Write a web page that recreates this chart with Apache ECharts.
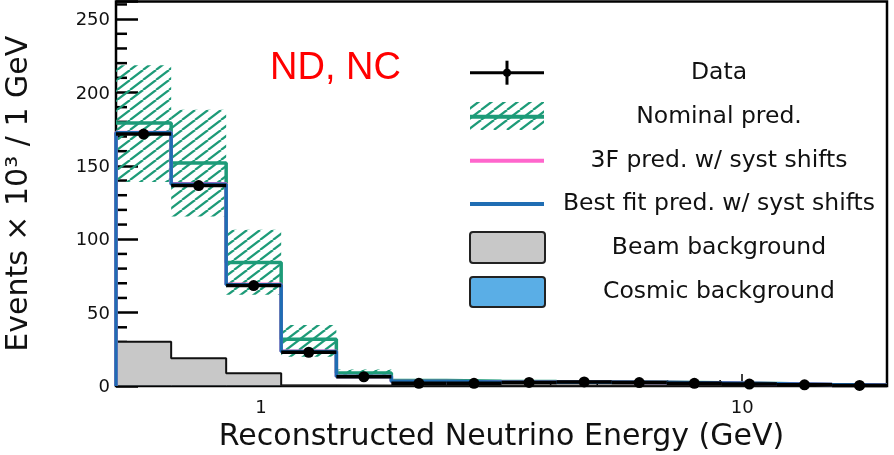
<!DOCTYPE html>
<html>
<head>
<meta charset="utf-8">
<script src="https://cdn.jsdelivr.net/npm/echarts@6/dist/echarts.min.js"></script>
<style>
html,body{margin:0;padding:0;background:#fff;}
#chart{width:894px;height:455px;}
</style>
</head>
<body>
<div id="chart"></div>
<script>
// Bin edges (GeV), 14 log-spaced bins
var binEdges = [0.5, 0.651, 0.847, 1.102, 1.435, 1.867, 2.43, 3.163, 4.117, 5.358, 6.974, 9.077, 11.81, 15.38, 20];
// Values (Events x 10^3 / 1 GeV) per bin
var dataValues    = [171.7, 136.6, 68.4, 23.0, 6.3, 1.8, 1.8, 2.4, 2.8, 2.3, 1.8, 1.3, 0.8, 0.4];
var nominalValues = [179.2, 151.9, 84.1, 31.8, 8.9, 3.8, 3.3, 3.0, 2.9, 2.6, 2.2, 1.7, 1.1, 0.6];
var nominalHigh   = [218.5, 188.3, 106.4, 41.6, 11.2, 4.6, 4.0, 3.6, 3.4, 3.1, 2.6, 2.0, 1.3, 0.7];
var nominalLow    = [139.0, 115.5, 62.1, 20.0, 5.5, 2.9, 2.6, 2.4, 2.3, 2.1, 1.8, 1.4, 0.9, 0.5];
var threeFValues  = [172.8, 137.8, 69.3, 23.6, 6.5, 3.1, 2.8, 2.6, 2.6, 2.4, 2.0, 1.6, 1.0, 0.5];
var bestFitValues = [172.5, 137.5, 69.0, 23.5, 6.4, 3.1, 2.8, 2.6, 2.6, 2.4, 2.0, 1.6, 1.0, 0.5];
var beamBkgValues = [30.2, 18.9, 8.7, 0.3, 0.2, 0.1, 0.1, 0.1, 0.1, 0.1, 0.1, 0.1, 0.1, 0.1];
var cosmicBkgValues = [0.2, 0.2, 0.2, 0.2, 0.2, 0.2, 0.2, 0.2, 0.2, 0.2, 0.2, 0.1, 0.1, 0.1];
// Tick positions and labels
var xMinorTicks = [0.6, 0.7, 0.8, 0.9, 2, 3, 4, 5, 6, 7, 8, 9, 20];
var xTickLabels = [1, 10];
var yTickLabels = [0, 50, 100, 150, 200, 250];
var yMinorTicks = [10, 20, 30, 40, 60, 70, 80, 90, 110, 120, 130, 140, 160, 170, 180, 190, 210, 220, 230, 240, 260];
var yMax = 262;

var GREEN = '#1d9b78', BLUE = '#1f6db3', PINK = '#ff66cc', GRAY = '#c8c8c8', COSMIC = '#5aaee6';
var FONT = 'DejaVu Sans';

function stepData(values, startZero) {
  var arr = [];
  if (startZero) arr.push([binEdges[0], 0]);
  for (var i = 0; i < values.length; i++) arr.push([binEdges[i], values[i]]);
  arr.push([binEdges[values.length], values[values.length - 1]]);
  return arr;
}

// hatch pattern
var pat = document.createElement('canvas');
pat.width = 13; pat.height = 10;
(function(){
  var c = pat.getContext('2d');
  c.strokeStyle = GREEN; c.lineWidth = 2.2;
  for (var k = -1; k <= 1; k++) {
    c.beginPath(); c.moveTo(k * 13, 10); c.lineTo(k * 13 + 13, 0); c.stroke();
  }
})();
var hatch = {image: pat, repeat: 'repeat'};

var bandItems = [], dataItems = [];
for (var i = 0; i < dataValues.length; i++) {
  bandItems.push([binEdges[i], binEdges[i + 1], nominalLow[i], nominalHigh[i]]);
  dataItems.push([binEdges[i], binEdges[i + 1], dataValues[i], Math.sqrt(binEdges[i] * binEdges[i + 1])]);
}

var chart = echarts.init(document.getElementById('chart'));
var legendX0 = 470, legendX1 = 544, textX = 719;
var rows = [72.7, 116.7, 160.7, 204, 248, 291.7];
var labels = ['Data', 'Nominal pred.', '3F pred. w/ syst shifts', 'Best fit pred. w/ syst shifts', 'Beam background', 'Cosmic background'];
var graphics = [];
labels.forEach(function(t, k){
  graphics.push({type:'text', x: textX, y: rows[k], z: 100,
    style:{text: t, fill:'#111', font: '23.5px "DejaVu Sans"', textAlign:'center', textVerticalAlign:'middle'}});
});
graphics.push({type:'line', z:100, shape:{x1:legendX0, y1:rows[0], x2:legendX1, y2:rows[0]}, style:{stroke:'#000', lineWidth:3}});
graphics.push({type:'line', z:100, shape:{x1:507, y1:rows[0]-12, x2:507, y2:rows[0]+12}, style:{stroke:'#000', lineWidth:3}});
graphics.push({type:'circle', z:100, shape:{cx:507, cy:rows[0], r:4}, style:{fill:'#000'}});
graphics.push({type:'rect', z:100, shape:{x:legendX0, y:102, width:legendX1-legendX0, height:28}, style:{fill: hatch}});
graphics.push({type:'line', z:100, shape:{x1:legendX0, y1:rows[1], x2:legendX1, y2:rows[1]}, style:{stroke:GREEN, lineWidth:4}});
graphics.push({type:'line', z:100, shape:{x1:legendX0, y1:rows[2], x2:legendX1, y2:rows[2]}, style:{stroke:PINK, lineWidth:4}});
graphics.push({type:'line', z:100, shape:{x1:legendX0, y1:rows[3], x2:legendX1, y2:rows[3]}, style:{stroke:BLUE, lineWidth:4}});
graphics.push({type:'rect', z:100, shape:{x:legendX0, y:232, width:75, height:31, r:3}, style:{fill:GRAY, stroke:'#222', lineWidth:2}});
graphics.push({type:'rect', z:100, shape:{x:legendX0, y:277, width:75, height:30, r:3}, style:{fill:COSMIC, stroke:'#222', lineWidth:2}});
graphics.push({type:'text', z:100, x:270, y:69,
  style:{text:'ND, NC', fill:'#ff0000', font:'38px "Liberation Sans"', textAlign:'left', textVerticalAlign:'middle'}});

var option = {
  animation: false,
  backgroundColor: '#fff',
  textStyle: {fontFamily:FONT, fontSize:18, color:'#111'},
  grid: {left:116, right:7, top:1.5, bottom:69, show:true, borderColor:'#000', borderWidth:2.5,
         backgroundColor:'transparent', outerBoundsMode:'none', containLabel:false},
  xAxis: {
    type:'log', logBase:10, min:0.5, max:20,
    axisLine:{show:false},
    axisTick:{show:true, inside:true, length:12, lineStyle:{color:'#000', width:1.5}},
    axisLabel:{show:false},
    splitLine:{show:false},
    name:'Reconstructed Neutrino Energy (GeV)', nameLocation:'middle', nameGap:36,
    nameTextStyle:{fontFamily:FONT, fontSize:30, color:'#111'}
  },
  yAxis: {
    type:'value', min:0, max:yMax, interval:50,
    axisLine:{show:false},
    axisTick:{show:true, inside:true, length:22, lineStyle:{color:'#000', width:2.5}},
    axisLabel:{show:false},
    splitLine:{show:false},
    name:'Events × 10³ / 1 GeV', nameLocation:'middle', nameGap:82,
    nameTextStyle:{fontFamily:FONT, fontSize:30, color:'#111'}
  },
  graphic: graphics,
  series: [
    {name:'Beam background', type:'line', step:'end', data: stepData(beamBkgValues), symbol:'none', z:2,
      lineStyle:{color:'#111', width:2}, areaStyle:{color:GRAY, opacity:1}},
    {name:'Cosmic background', type:'line', step:'end', data: stepData(cosmicBkgValues), symbol:'none', z:2,
      lineStyle:{color:'#222', width:1}, areaStyle:{color:COSMIC, opacity:1}},
    {name:'Nominal band', type:'custom', z:3, data: bandItems, encode:{x:[0,1], y:[2,3]},
      renderItem:function(params, api){
        var p0 = api.coord([api.value(0), api.value(3)]);
        var p1 = api.coord([api.value(1), api.value(2)]);
        return {type:'rect', shape:{x:p0[0], y:p0[1], width:p1[0]-p0[0], height:p1[1]-p0[1]}, style:{fill: hatch}};
      }},
    {name:'Nominal pred.', type:'line', step:'end', data: stepData(nominalValues), symbol:'none', z:4,
      lineStyle:{color:GREEN, width:3.5}},
    {name:'3F pred. w/ syst shifts', type:'line', step:'end', data: stepData(threeFValues, true), symbol:'none', z:5,
      lineStyle:{color:PINK, width:3.5}},
    {name:'Best fit pred. w/ syst shifts', type:'line', step:'end', data: stepData(bestFitValues, true), symbol:'none', z:6,
      lineStyle:{color:BLUE, width:3.5}},
    {name:'Data', type:'custom', z:7, data: dataItems, encode:{x:[0,1], y:2},
      renderItem:function(params, api){
        var v = api.value(2);
        var p0 = api.coord([api.value(0), v]), p1 = api.coord([api.value(1), v]), pc = api.coord([api.value(3), v]);
        return {type:'group', children:[
          {type:'line', shape:{x1:p0[0], y1:p0[1], x2:p1[0], y2:p1[1]}, style:{stroke:'#000', lineWidth:3.5}},
          {type:'circle', shape:{cx:pc[0], cy:pc[1], r:5.5}, style:{fill:'#000'}}
        ]};
      }},
    {name:'x minor ticks', type:'custom', z:1, data: xMinorTicks.map(function(v){return [v, 0];}),
      renderItem:function(params, api){
        var p = api.coord([api.value(0), 0]);
        return {type:'line', shape:{x1:p[0], y1:p[1], x2:p[0], y2:p[1]-6}, style:{stroke:'#000', lineWidth:1.5}};
      }},
    {name:'y minor ticks', type:'custom', z:1, data: yMinorTicks.map(function(v){return [0.5, v];}),
      renderItem:function(params, api){
        var p = api.coord([0.5, api.value(1)]);
        return {type:'line', shape:{x1:p[0], y1:p[1], x2:p[0]+11, y2:p[1]}, style:{stroke:'#000', lineWidth:2.5}};
      }}
  ]
};
chart.setOption(option);

// tick labels positioned through the chart's own scales
var tickGraphics = [];
xTickLabels.forEach(function(v){
  var p = chart.convertToPixel({gridIndex:0}, [v, 0]);
  tickGraphics.push({type:'text', x:p[0], y:p[1]+22, z:100,
    style:{text:String(v), fill:'#111', font:'18px "DejaVu Sans"', textAlign:'center', textVerticalAlign:'middle'}});
});
yTickLabels.forEach(function(v){
  var p = chart.convertToPixel({gridIndex:0}, [0.5, v]);
  tickGraphics.push({type:'text', x:p[0]-6, y:p[1]+1.5, z:100,
    style:{text:String(v), fill:'#111', font:'18px "DejaVu Sans"', textAlign:'right', textVerticalAlign:'middle'}});
});
chart.setOption({graphic: graphics.concat(tickGraphics)});
</script>
</body>
</html>
